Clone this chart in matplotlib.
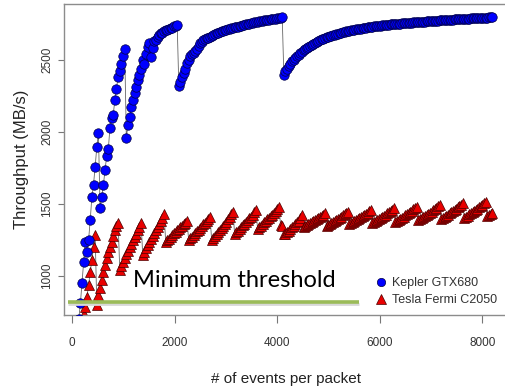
import matplotlib
matplotlib.use("Agg")
import matplotlib.pyplot as plt
from matplotlib.lines import Line2D

plt.rcParams['font.family'] = ['Liberation Sans', 'DejaVu Sans']

# events per packet
events = [128, 160, 192, 224, 256, 288, 320, 352, 384, 416,
          448, 480, 512, 544, 576, 608, 640, 672, 704, 736,
          768, 800, 832, 864, 896, 928, 960, 992, 1024, 1056,
          1088, 1120, 1152, 1184, 1216, 1248, 1280, 1312, 1344, 1376,
          1408, 1440, 1472, 1504, 1536, 1568, 1600, 1632, 1664, 1696,
          1728, 1760, 1792, 1824, 1856, 1888, 1920, 1952, 1984, 2016,
          2048, 2080, 2112, 2144, 2176, 2208, 2240, 2272, 2304, 2336,
          2368, 2400, 2432, 2464, 2496, 2528, 2560, 2592, 2624, 2656,
          2688, 2720, 2752, 2784, 2816, 2848, 2880, 2912, 2944, 2976,
          3008, 3040, 3072, 3104, 3136, 3168, 3200, 3232, 3264, 3296,
          3328, 3360, 3392, 3424, 3456, 3488, 3520, 3552, 3584, 3616,
          3648, 3680, 3712, 3744, 3776, 3808, 3840, 3872, 3904, 3936,
          3968, 4000, 4032, 4064, 4096, 4128, 4160, 4192, 4224, 4256,
          4288, 4320, 4352, 4384, 4416, 4448, 4480, 4512, 4544, 4576,
          4608, 4640, 4672, 4704, 4736, 4768, 4800, 4832, 4864, 4896,
          4928, 4960, 4992, 5024, 5056, 5088, 5120, 5152, 5184, 5216,
          5248, 5280, 5312, 5344, 5376, 5408, 5440, 5472, 5504, 5536,
          5568, 5600, 5632, 5664, 5696, 5728, 5760, 5792, 5824, 5856,
          5888, 5920, 5952, 5984, 6016, 6048, 6080, 6112, 6144, 6176,
          6208, 6240, 6272, 6304, 6336, 6368, 6400, 6432, 6464, 6496,
          6528, 6560, 6592, 6624, 6656, 6688, 6720, 6752, 6784, 6816,
          6848, 6880, 6912, 6944, 6976, 7008, 7040, 7072, 7104, 7136,
          7168, 7200, 7232, 7264, 7296, 7328, 7360, 7392, 7424, 7456,
          7488, 7520, 7552, 7584, 7616, 7648, 7680, 7712, 7744, 7776,
          7808, 7840, 7872, 7904, 7936, 7968, 8000, 8032, 8064, 8096,
          8128, 8160, 8192]

# Kepler GTX680 throughput (MB/s)
kepler = [700, 810, 955, 1100, 1235, 1170, 1250, 1390, 1550, 1635, 1760, 1895, 1990,
          1470, 1550, 1630, 1735, 1830, 1880, 2025, 2095, 2120, 2220, 2300, 2385,
          2420, 2475, 2525, 2575,
          1960, 2050, 2105, 2175, 2220, 2270, 2315, 2360, 2395, 2440, 2500, 2470,
          2540, 2590, 2615, 2520, 2580, 2630, 2640, 2660, 2675, 2685, 2690, 2700,
          2705, 2710, 2715, 2720, 2725, 2735, 2738, 2740,
          2320, 2345, 2380, 2410, 2440, 2480, 2500, 2530, 2540, 2545,
          2565, 2575, 2600, 2615, 2625, 2635, 2642, 2650, 2655, 2660,
          2666, 2672, 2679, 2685, 2690, 2695, 2699, 2703, 2706, 2708,
          2712, 2715, 2719, 2722, 2726, 2730, 2732, 2735, 2738, 2740,
          2743, 2746, 2749, 2752, 2755, 2758, 2760, 2762, 2766, 2770,
          2771, 2773, 2775, 2776, 2778, 2780, 2782, 2783, 2785, 2786,
          2788, 2790, 2794, 2798,
          2396, 2420, 2440, 2458, 2475, 2490, 2503, 2515, 2526, 2536,
          2546, 2556, 2566, 2575, 2584, 2592, 2600, 2607, 2614, 2621,
          2627, 2632, 2638, 2643, 2648, 2653, 2657, 2661, 2665, 2669,
          2672, 2676, 2680, 2683, 2686, 2689, 2692, 2695, 2698, 2700,
          2703, 2705, 2708, 2710, 2712, 2714, 2716, 2718, 2720, 2722,
          2724, 2726, 2728, 2730, 2731, 2733, 2735, 2736, 2738, 2739,
          2740, 2742, 2743, 2744, 2745, 2746, 2747, 2748, 2749, 2750,
          2751, 2752, 2753, 2754, 2755, 2756, 2757, 2758, 2759, 2760,
          2761, 2762, 2763, 2764, 2765, 2765, 2766, 2767, 2768, 2769,
          2770, 2771, 2772, 2772, 2773, 2774, 2775, 2775, 2776, 2777,
          2778, 2778, 2779, 2780, 2781, 2781, 2782, 2783, 2784, 2784,
          2785, 2786, 2786, 2787, 2788, 2788, 2789, 2790, 2790, 2791,
          2792, 2792, 2793, 2794, 2794, 2795, 2795, 2796]

# Tesla Fermi C2050 throughput (MB/s)
fermi = [560, 620, 680, 735, 787, 856, 937, 1030, 1111, 1203, 1285,
         800, 868, 920, 972, 1025, 1076, 1125, 1169, 1205, 1238, 1280, 1319, 1345, 1366,
         1042, 1070, 1100, 1125, 1150, 1175, 1200, 1225, 1248, 1270, 1295, 1318, 1342, 1366,
         1146, 1170, 1192, 1214, 1236, 1258, 1280, 1300, 1320, 1340, 1360, 1382, 1405, 1430,
         1235, 1248, 1260, 1272, 1284, 1296, 1308, 1320, 1330, 1340, 1350, 1360, 1370, 1380,
         1250, 1262, 1274, 1286, 1298, 1310, 1322, 1334, 1346, 1358, 1370, 1384, 1397, 1410,
         1252, 1266, 1280, 1294, 1308, 1322, 1336, 1350, 1364, 1378, 1393, 1410, 1428, 1445,
         1292, 1304, 1316, 1328, 1340, 1352, 1364, 1376, 1388, 1400, 1413, 1427, 1442, 1458,
         1328, 1339, 1350, 1361, 1372, 1383, 1394, 1405, 1416, 1427, 1439, 1452, 1466, 1480,
         1355, 1345, 1290, 1295, 1305, 1316, 1327, 1338, 1349, 1360, 1372, 1385, 1404, 1424,
         1340, 1347, 1354, 1361, 1368, 1375, 1382, 1389, 1396, 1403, 1411, 1419, 1427, 1435,
         1348, 1355, 1362, 1369, 1376, 1383, 1390, 1397, 1405, 1413, 1421, 1429, 1438, 1447,
         1358, 1365, 1372, 1379, 1386, 1393, 1400, 1408, 1416, 1424, 1432, 1440, 1449, 1458,
         1368, 1375, 1382, 1389, 1396, 1403, 1411, 1419, 1427, 1435, 1443, 1452, 1461, 1470,
         1378, 1385, 1392, 1399, 1406, 1413, 1421, 1429, 1437, 1445, 1453, 1462, 1471, 1480,
         1388, 1395, 1402, 1409, 1416, 1424, 1432, 1440, 1448, 1456, 1465, 1474, 1483, 1493,
         1398, 1405, 1412, 1419, 1427, 1435, 1443, 1451, 1459, 1467, 1476, 1485, 1495, 1505,
         1405, 1412, 1420, 1428, 1436, 1444, 1452, 1460, 1468, 1477, 1486, 1495, 1505, 1515,
         1415, 1422, 1430, 1440]

assert len(events) == len(kepler) == len(fermi)

threshold = 820
threshold_span = [-80, 5600]
xticks = [0, 2000, 4000, 6000, 8000]
yticks = [1000, 1500, 2000, 2500]

fig = plt.figure(figsize=(5.05, 3.89), dpi=100)
ax = fig.add_axes([0.127, 0.19, 0.878, 0.80])

ax.plot(events, fermi, color='#666666', lw=0.6, zorder=1)
ax.plot(events, fermi, ls='none', marker='^', ms=7.5, mfc='#e80000',
        mec='#4a0000', mew=0.5, zorder=2)
ax.plot(events, kepler, color='#666666', lw=0.6, zorder=3)
ax.plot(events, kepler, ls='none', marker='o', ms=6.8, mfc='#0000ff',
        mec='#000040', mew=0.5, zorder=4)

# minimum threshold line with a soft shadow
ax.plot(threshold_span, [threshold - 14, threshold - 14], color='#d8d8d8', lw=2.0, zorder=5,
        solid_capstyle='butt')
ax.plot(threshold_span, [threshold, threshold], color='#9bbb59', lw=2.6, zorder=6,
        solid_capstyle='butt')
ax.text(1190, 968, 'Minimum threshold', fontsize=17, family=['Lato', 'DejaVu Sans'],
        va='center', ha='left', color='black', zorder=7)

ax.set_xlim(-157, 8490)
ax.set_ylim(729, 2889)
ax.set_xticks(xticks)
ax.set_yticks(yticks)
ax.set_xticklabels([str(t) for t in xticks], fontsize=8.5, color='#333333')
ax.set_yticklabels([str(t) for t in yticks], fontsize=8.5, color='#333333',
                   rotation=90, va='center')
ax.tick_params(axis='x', direction='out', length=6, color='#777777', pad=10)
ax.tick_params(axis='y', direction='out', length=4, color='#777777', pad=4)
for s in ax.spines.values():
    s.set_color('#8c8c8c')
    s.set_linewidth(1.0)

ax.set_xlabel('# of events per packet', fontsize=11, color='#222222', labelpad=16)
ax.set_ylabel('Throughput (MB/s)', fontsize=12, color='#222222', labelpad=9)

handles = [Line2D([], [], ls='none', marker='o', ms=6, mfc='#0000ff', mec='#000040', mew=0.5),
           Line2D([], [], ls='none', marker='^', ms=7, mfc='#e80000', mec='#4a0000', mew=0.5)]
leg = ax.legend(handles, ['Kepler GTX680', 'Tesla Fermi C2050'], loc='upper left',
                bbox_to_anchor=(0.727, 0.31), bbox_transform=fig.transFigure,
                frameon=False, fontsize=9, handlelength=0.8, handletextpad=0.5,
                labelspacing=0.4, borderpad=0.2)
for t in leg.get_texts():
    t.set_color('#333333')

fig.savefig('out.png', dpi=100)
